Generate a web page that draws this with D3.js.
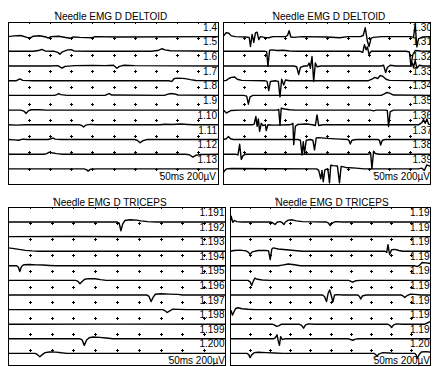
<!DOCTYPE html>
<html><head><meta charset="utf-8">
<script src="https://cdn.jsdelivr.net/npm/d3@7"></script>
<style>
body{margin:0;background:#fff}
svg{display:block}
text{font-family:"Liberation Sans",Arial,sans-serif;font-size:10px;fill:#000}
</style>
</head><body>
<svg id="c" width="435" height="367"></svg>
<script>
// ---------- DATA ----------
const titles = ["Needle EMG D DELTOID", "Needle EMG D DELTOID", "Needle EMG D TRICEPS", "Needle EMG D TRICEPS"];
const scaleText = "50ms 200µV";
const sweepMs = [0, 500];        // 10 divisions x 50 ms
const divisions = 10;

const deltoidLeftLabels = ["1.4","1.5","1.6","1.7","1.8","1.9","1.10","1.11","1.12","1.13"];
const deltoidRightLabels = ["1.30","1.31","1.32","1.33","1.34","1.35","1.36","1.37","1.38","1.39"];
const tricepsLeftLabels = ["1.191","1.192","1.193","1.194","1.195","1.196","1.197","1.198","1.199","1.200"];
const tricepsRightLabels = ["1.191","1.192","1.193","1.194","1.195","1.196","1.197","1.198","1.199","1.200"];

// traces: [time ms, amplitude µV]
const deltoidLeftTraces = [
  [[0,0],[15,10],[30,15],[45,-10],[52,-20],[60,5],[75,12],[90,-5],[95,-20],[102,0],[120,5],[140,-15],[148,-22],[155,-5],[170,-10],[200,-15],[206,0],[260,-5],[500,0]],
  [[0,0],[60,0],[72,10],[80,25],[88,5],[110,0],[118,-15],[123,-40],[128,-10],[135,5],[142,20],[150,22],[156,5],[200,0],[340,0],[355,10],[365,35],[372,20],[385,8],[500,0]],
  [[0,0],[100,0],[118,5],[128,-30],[135,-5],[160,5],[200,8],[230,5],[250,10],[258,-30],[264,-5],[275,10],[300,5],[500,0]],
  [[0,0],[20,0],[28,25],[35,5],[60,0],[380,0],[388,-10],[394,30],[405,35],[420,28],[432,15],[445,3],[500,0]],
  [[0,0],[110,0],[116,10],[120,25],[125,10],[140,0],[230,0],[235,15],[240,25],[246,5],[370,0],[378,15],[385,25],[395,20],[403,5],[500,0]],
  [[0,0],[30,0],[38,-15],[43,-45],[48,-10],[55,5],[75,5],[90,0],[500,0]],
  [[0,0],[20,-5],[40,0],[170,0],[175,-10],[179,-30],[184,-5],[195,5],[210,0],[360,0],[372,8],[390,5],[410,10],[425,5],[440,0],[500,0]],
  [[0,0],[15,-5],[25,-10],[35,5],[45,0],[95,0],[102,10],[107,20],[112,5],[125,0],[300,0],[306,-10],[313,-45],[320,-15],[330,0],[500,0]],
  [[0,0],[85,0],[92,8],[98,28],[104,20],[115,8],[130,0],[420,0],[430,-8],[438,-40],[445,-15],[455,-5],[500,0]],
  [[0,0],[180,0],[186,-10],[190,-30],[195,-5],[210,0],[500,0]]
];

const deltoidRightTraces = [
  [[0,0],[3,20],[8,55],[14,45],[20,10],[30,0],[55,-5],[63,-10],[66,-135],[70,30],[74,-80],[78,50],[82,60],[86,-40],[90,0],[100,-10],[110,-15],[120,0],[150,0],[155,15],[159,80],[163,-5],[170,-10],[190,0],[250,-5],[280,-15],[300,0],[330,0],[337,15],[342,120],[347,-60],[351,-135],[356,-20],[362,-10],[380,0],[450,0],[458,-10],[462,165],[466,-140],[470,-30],[480,-5],[500,0]],
  [[0,0],[100,0],[105,-5],[108,-205],[112,15],[118,20],[130,10],[145,15],[160,5],[180,0],[330,0],[336,-15],[340,90],[344,20],[347,60],[351,-40],[356,0],[440,0],[448,-10],[452,-205],[456,-50],[462,10],[475,5],[500,0]],
  [[0,0],[170,0],[177,-10],[182,-115],[186,-20],[195,0],[203,0],[207,40],[210,-30],[214,130],[218,-210],[222,40],[226,-10],[235,0],[380,0],[386,10],[391,-90],[395,-20],[402,10],[415,0],[450,0],[455,40],[458,-20],[462,75],[466,-30],[472,10],[480,0],[500,0]],
  [[0,0],[8,5],[14,30],[20,45],[28,50],[34,20],[45,5],[100,0],[106,-10],[110,-135],[114,-10],[125,0],[133,-10],[137,-220],[141,20],[146,-60],[150,10],[160,0],[350,0],[358,20],[365,45],[372,30],[378,70],[384,60],[392,20],[400,5],[500,0]],
  [[0,0],[50,0],[57,-10],[61,-120],[65,-20],[72,0],[380,0],[388,20],[394,40],[400,30],[410,5],[500,0]],
  [[0,0],[3,-10],[8,-40],[14,-20],[20,-5],[40,0],[130,0],[134,10],[137,-210],[140,25],[148,15],[160,5],[175,0],[355,0],[362,-10],[368,0],[390,0],[395,-5],[398,-225],[402,-20],[410,0],[500,0]],
  [[0,0],[70,0],[75,10],[79,115],[82,-20],[85,80],[88,-90],[92,20],[96,-10],[102,0],[104,-80],[108,0],[120,-5],[160,0],[165,10],[168,20],[170,-270],[174,-20],[180,5],[200,10],[215,0],[222,-10],[226,135],[230,-10],[240,0],[470,0],[478,30],[482,70],[486,20],[490,80],[494,10],[500,0]],
  [[0,0],[8,10],[13,40],[18,10],[25,0],[180,0],[186,-10],[190,-210],[193,-30],[196,-190],[200,-10],[210,0],[216,-10],[220,-140],[224,20],[230,25],[250,15],[280,5],[300,0],[303,-15],[306,-60],[310,-10],[320,0],[372,0],[376,-10],[379,-75],[383,-10],[390,0],[500,0]],
  [[0,0],[30,0],[36,-10],[40,135],[44,-70],[48,-20],[55,0],[350,0],[355,10],[358,-200],[362,40],[366,10],[375,0],[500,0]],
  [[0,-60],[3,-30],[8,0],[20,5],[225,0],[230,-20],[235,-135],[238,-20],[241,-175],[245,-10],[252,0],[256,-190],[259,50],[265,45],[275,40],[280,-190],[284,35],[295,20],[320,10],[340,0],[470,0],[478,10],[484,-20],[490,55],[496,40],[500,30]]
];

const tricepsLeftTraces = [
  [[0,0],[250,0],[255,-15],[259,-120],[263,-30],[268,20],[280,30],[295,25],[305,15],[320,5],[340,0],[500,0]],
  [[0,0],[150,2],[300,-2],[500,0]],
  [[0,45],[10,38],[25,25],[40,12],[55,5],[70,0],[500,0]],
  [[0,0],[20,0],[24,-20],[27,-80],[31,-10],[36,15],[50,18],[65,12],[80,10],[95,5],[110,0],[500,0]],
  [[0,0],[155,0],[160,-10],[165,-45],[170,-15],[176,15],[185,25],[200,22],[212,10],[225,0],[500,0]],
  [[0,0],[318,0],[323,-15],[328,-90],[333,-30],[338,10],[350,18],[370,12],[390,8],[400,0],[500,0]],
  [[0,0],[355,0],[360,-15],[365,-40],[370,-20],[378,5],[390,3],[410,0],[500,0]],
  [[0,0],[250,1],[500,0]],
  [[0,0],[165,0],[170,-15],[175,-90],[180,-20],[186,15],[195,25],[210,20],[225,10],[240,0],[500,0]],
  [[0,0],[62,0],[67,-15],[73,-45],[78,-20],[85,10],[95,20],[110,18],[122,8],[135,0],[500,0]]
];

const tricepsRightTraces = [
  [[0,-25],[3,78],[7,-5],[11,20],[17,5],[30,0],[100,0],[106,-10],[112,-35],[118,0],[125,5],[130,-10],[134,-35],[138,0],[145,25],[155,30],[165,15],[180,5],[240,0],[245,-15],[249,-50],[254,-15],[262,5],[280,0],[500,0]],
  [[0,0],[250,1],[500,0]],
  [[0,0],[10,10],[25,15],[40,5],[46,-15],[50,-45],[55,-10],[70,10],[90,10],[96,5],[100,-115],[104,30],[108,45],[120,30],[140,20],[160,10],[180,0],[385,0],[390,-15],[393,90],[397,-45],[402,20],[410,25],[420,10],[430,0],[500,0]],
  [[0,0],[120,0],[130,10],[145,25],[160,15],[175,0],[460,0],[466,-10],[472,10],[478,45],[486,40],[495,35],[500,30]],
  [[0,0],[45,0],[50,-20],[54,-70],[58,-10],[62,30],[68,15],[80,5],[100,0],[295,0],[300,-10],[305,-25],[312,-5],[325,0],[500,0]],
  [[0,0],[230,0],[235,-20],[240,-90],[244,20],[248,70],[252,-10],[256,-95],[260,0],[268,5],[280,0],[318,0],[322,-20],[325,-55],[330,-10],[340,0],[425,0],[430,-10],[435,-35],[440,-10],[448,10],[460,8],[475,0],[500,0]],
  [[0,0],[3,-20],[6,-75],[10,-30],[14,15],[20,25],[30,12],[45,5],[60,0],[500,0]],
  [[0,0],[105,0],[110,-10],[116,-30],[122,-20],[128,0],[172,0],[178,-15],[183,-55],[188,-10],[195,5],[210,0],[392,0],[398,-15],[402,-45],[407,-10],[415,5],[430,0],[485,0],[492,20],[498,35],[500,30]],
  [[0,0],[108,0],[113,15],[117,55],[120,-30],[123,-90],[126,30],[130,-10],[136,0],[295,0],[300,-10],[306,-20],[312,-5],[320,0],[500,0]],
  [[0,0],[43,0],[47,-20],[50,-60],[54,-20],[60,10],[70,15],[90,10],[110,5],[130,0],[358,0],[362,-15],[366,-35],[370,-10],[380,10],[395,5],[410,0],[460,0],[463,-20],[466,-70],[470,-20],[476,20],[488,25],[500,15]]
];

// ---------- LAYOUT ----------
const panels = [
  {title: titles[0], labels: deltoidLeftLabels, traces: deltoidLeftTraces,
   x0: 8, y0: 22, x1: 219, y1: 185, titleX: 111, titleY: 19.5, first: 36.6, step: 14.7,
   labAnchor: "end", labX: 217, scaleX: 216},
  {title: titles[1], labels: deltoidRightLabels, traces: deltoidRightTraces,
   x0: 223, y0: 22, x1: 431, y1: 185, titleX: 329, titleY: 19.5, first: 36.6, step: 14.7,
   labAnchor: "end", labX: 432, scaleX: 430},
  {title: titles[2], labels: tricepsLeftLabels, traces: tricepsLeftTraces,
   x0: 8, y0: 207, x1: 226, y1: 366, titleX: 110, titleY: 205.5, first: 222, step: 14.6,
   labAnchor: "end", labX: 224.5, scaleX: 225},
  {title: titles[3], labels: tricepsRightLabels, traces: tricepsRightTraces,
   x0: 230, y0: 207, x1: 431, y1: 366, titleX: 332, titleY: 205.5, first: 222, step: 14.6,
   labAnchor: "start", labX: 410, scaleX: 430}
];

const svg = d3.select("#c");
const defs = svg.append("defs");

panels.forEach((p, pi) => {
  const id = "clip" + pi;
  defs.append("clipPath").attr("id", id)
    .append("rect").attr("x", p.x0).attr("y", p.y0).attr("width", p.x1 - p.x0).attr("height", p.y1 - p.y0);

  const x = d3.scaleLinear().domain(sweepMs).range([p.x0, p.x1]);
  const amp = d3.scaleLinear().domain([0, 200]).range([0, -p.step]);
  const row = d3.scaleLinear().domain([0, divisions]).range([p.y0, p.y1]);

  // title
  const t = svg.append("text").attr("x", p.titleX).attr("y", p.titleY)
    .attr("text-anchor", "middle").text(p.title);
  const tb = t.node().getBBox();
  svg.append("line").attr("x1", tb.x + 0.5).attr("x2", tb.x + 0.5)
    .attr("y1", tb.y + 1).attr("y2", tb.y + 3.5).attr("stroke", "#000").attr("stroke-width", 0.8);

  const g = svg.append("g").attr("clip-path", `url(#${id})`);

  // grid "+" markers
  const pts = [];
  for (let j = 0; j <= divisions; j++)
    for (let k = 1; k < divisions; k++)
      pts.push([Math.round(x(k * 50)) + 0.5, Math.round(row(j)) + 0.5]);
  g.append("path")
    .attr("d", pts.map(([px, py]) => `M${px - 1.5},${py}h3M${px},${py - 1.5}v3`).join(""))
    .attr("stroke", "#000").attr("stroke-width", 1).attr("fill", "none");

  // traces
  const line = d3.line();
  p.traces.forEach((tr, i) => {
    const base = p.first + i * p.step;
    g.append("path")
      .attr("d", line(tr.map(([ms, uv]) => [x(ms), base + amp(uv)])))
      .attr("fill", "none").attr("stroke", "#000").attr("stroke-width", 1.4)
      .attr("stroke-linejoin", "round");
  });

  // labels
  p.labels.forEach((lab, i) => {
    const base = p.first + i * p.step;
    g.append("text").attr("x", p.labX).attr("y", base - 6)
      .attr("text-anchor", p.labAnchor).text(lab);
  });

  // scale text
  const last = p.first + (p.traces.length - 1) * p.step;
  const st = svg.append("text").attr("x", p.scaleX).attr("y", last + 11)
    .attr("text-anchor", "end").text(scaleText);
  const sb = st.node().getBBox();
  svg.append("line").attr("x1", sb.x + 0.5).attr("x2", sb.x + 0.5)
    .attr("y1", sb.y + 1).attr("y2", sb.y + 3.5).attr("stroke", "#000").attr("stroke-width", 0.8);

  // border
  svg.append("rect").attr("x", p.x0 + 0.5).attr("y", p.y0 + 0.5)
    .attr("width", p.x1 - p.x0 - 1).attr("height", p.y1 - p.y0 - 1)
    .attr("fill", "none").attr("stroke", "#000").attr("stroke-width", 1);
});
</script>
</body></html>
